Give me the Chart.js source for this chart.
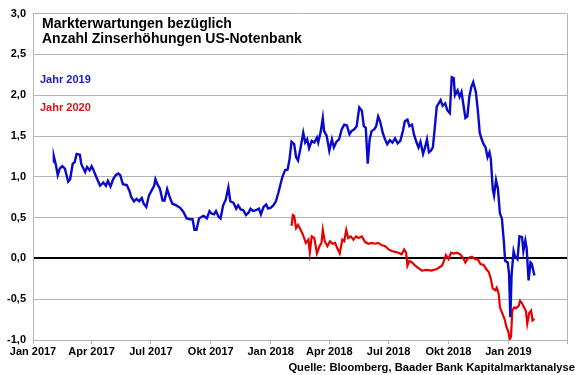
<!DOCTYPE html>
<html>
<head>
    <title>Markterwartungen bezüglich Anzahl Zinserhöhungen US-Notenbank</title>
    <script src="https://cdn.jsdelivr.net/npm/chart.js"></script>
    <style>
        body {
            margin: 0;
            padding: 0;
            overflow: hidden;
            background-color: #ffffff;
        }
        #chart-container {
            position: relative;
            width: 580px;
            height: 375px;
        }
    </style>
</head>
<body>
    <div id="chart-container">
        <canvas id="myChart"></canvas>
    </div>

    <script>
        // Tage seit 1. Januar 2017 und Werte
        const tage2019 = [31, 32, 35, 38, 41, 45, 49, 54, 57, 61, 64, 67, 72, 74, 80, 83, 87, 90, 93, 97,
            103, 108, 112, 115, 119, 123, 127, 131, 134, 138, 144, 148, 151, 155, 159, 163, 167, 170, 174, 178,
            182, 186, 188, 191, 195, 199, 202, 206, 210, 214, 220, 226, 231, 236, 241, 245, 248, 251, 255, 259,
            262, 267, 271, 274, 278, 281, 285, 288, 292, 296, 300, 303, 308, 312, 315, 319, 323, 327, 331, 334,
            338, 342, 347, 350, 354, 358, 361, 365, 369, 373, 377, 383, 387, 391, 394, 397, 401, 404, 407, 411,
            415, 418, 421, 424, 428, 432, 436, 438, 442, 445, 447, 451, 455, 459, 462, 466, 470, 474, 478, 482,
            486, 489, 493, 497, 501, 505, 508, 511, 514, 517, 520, 524, 527, 530, 533, 537, 541, 544, 548, 552,
            556, 560, 564, 568, 571, 575, 578, 582, 585, 589, 592, 595, 599, 602, 605, 608, 611, 614, 616, 620,
            623, 626, 629, 633, 636, 640, 643, 646, 648, 652, 655, 658, 661, 664, 667, 670, 673, 676, 680, 683,
            686, 689, 692, 695, 698, 701, 703, 706, 708, 711, 714, 717, 720, 723, 725, 729, 731, 733, 735, 738,
            740, 744, 747, 751, 753, 756, 758, 761, 764, 766, 770];
        const werte2019 = [1.18, 1.25, 1.15, 1.02, 1.10, 1.13, 1.10, 0.94, 0.97, 1.16, 1.18, 1.28, 1.27, 1.16, 1.06, 1.12, 1.08, 1.13, 1.08, 1.00,
            0.89, 0.93, 0.89, 0.95, 0.88, 0.97, 1.02, 1.04, 1.02, 0.91, 0.90, 0.83, 0.75, 0.70, 0.73, 0.70, 0.74, 0.67, 0.63, 0.77,
            0.83, 0.89, 0.97, 0.91, 0.85, 0.71, 0.71, 0.85, 0.75, 0.67, 0.65, 0.62, 0.57, 0.49, 0.48, 0.48, 0.35, 0.35, 0.49, 0.51,
            0.52, 0.49, 0.58, 0.55, 0.54, 0.58, 0.51, 0.49, 0.65, 0.72, 0.87, 0.70, 0.68, 0.61, 0.65, 0.60, 0.59, 0.53, 0.56, 0.61,
            0.58, 0.59, 0.61, 0.54, 0.63, 0.66, 0.61, 0.62, 0.65, 0.70, 0.81, 1.00, 1.08, 1.09, 1.22, 1.43, 1.40, 1.24, 1.20, 1.36,
            1.54, 1.42, 1.46, 1.35, 1.44, 1.42, 1.48, 1.42, 1.56, 1.72, 1.56, 1.50, 1.32, 1.46, 1.36, 1.43, 1.46, 1.58, 1.64, 1.63,
            1.52, 1.56, 1.58, 1.62, 1.85, 1.81, 1.62, 1.60, 1.16, 1.46, 1.56, 1.58, 1.62, 1.74, 1.68, 1.54, 1.45, 1.40, 1.45, 1.42,
            1.47, 1.41, 1.44, 1.56, 1.68, 1.70, 1.62, 1.64, 1.52, 1.42, 1.36, 1.43, 1.28, 1.36, 1.46, 1.30, 1.32, 1.36, 1.52, 1.86,
            1.90, 1.94, 1.87, 1.90, 1.82, 1.78, 2.22, 2.21, 2.00, 2.06, 1.98, 2.04, 1.88, 1.72, 1.74, 1.98, 2.10, 2.16, 2.04, 1.82,
            1.54, 1.46, 1.40, 1.36, 1.24, 1.30, 1.22, 0.85, 0.77, 0.96, 0.85, 0.55, 0.49, 0.21, -0.03, -0.05, -0.19, -0.72, -0.19, 0.09,
            0.03, -0.01, 0.27, 0.26, 0.09, 0.22, 0.13, -0.27, -0.05, -0.07, -0.21];

        const tage2020 = [397, 399, 401, 404, 407, 411, 415, 419, 423, 425, 428, 432, 436, 440, 443, 445, 448, 452, 456, 460,
            464, 467, 471, 475, 478, 481, 484, 488, 492, 496, 500, 505, 510, 515, 520, 525, 530, 536, 541, 546,
            551, 556, 561, 566, 570, 573, 575, 578, 582, 587, 592, 597, 605, 612, 620, 628, 631, 634, 638, 642,
            646, 651, 656, 660, 664, 667, 670, 674, 679, 683, 687, 692, 696, 700, 703, 706, 710, 712, 715, 717,
            721, 724, 727, 730, 732, 734, 736, 739, 742, 746, 748, 751, 754, 757, 759, 762, 765, 767, 770];
        const werte2020 = [0.40, 0.53, 0.52, 0.37, 0.41, 0.35, 0.28, 0.19, 0.23, 0.07, 0.27, 0.25, 0.06, 0.15, 0.19, 0.35, 0.21, 0.15, 0.21, 0.18,
            0.19, 0.13, 0.06, 0.23, 0.21, 0.35, 0.25, 0.27, 0.23, 0.27, 0.25, 0.27, 0.20, 0.18, 0.19, 0.18, 0.19, 0.16, 0.15, 0.11,
            0.09, 0.08, 0.07, 0.05, 0.11, 0.07, -0.09, -0.03, -0.05, -0.09, -0.12, -0.15, -0.14, -0.15, -0.13, -0.09, -0.03, 0.04, -0.01, 0.07,
            0.06, 0.07, 0.05, 0.01, -0.05, -0.01, 0.01, 0.02, -0.01, -0.01, -0.07, -0.08, -0.13, -0.17, -0.25, -0.37, -0.39, -0.36, -0.43, -0.60,
            -0.68, -0.74, -0.84, -0.90, -0.99, -0.96, -0.64, -0.60, -0.61, -0.58, -0.52, -0.55, -0.60, -0.65, -0.80, -0.67, -0.64, -0.76, -0.74];

        // Quartalsanfänge (Tage seit 1.1.2017) und Beschriftungen
        const quartalTage = [0, 90, 181, 273, 365, 455, 546, 638, 730, 820];
        const quartalLabels = ['Jan 2017', 'Apr 2017', 'Jul 2017', 'Okt 2017', 'Jan 2018', 'Apr 2018', 'Jul 2018', 'Okt 2018', 'Jan 2019', ''];

        const FONT = "'Liberation Sans', Arial, sans-serif";

        // Titel, Serienbeschriftungen, Quelle und rechter Rahmen
        const textPlugin = {
            id: 'texte',
            afterDraw(chart) {
                const c = chart.ctx;
                const a = chart.chartArea;
                c.save();
                c.strokeStyle = '#b4b4b4';
                c.lineWidth = 1;
                c.beginPath();
                c.moveTo(Math.round(a.right) + 0.5, a.top);
                c.lineTo(Math.round(a.right) + 0.5, a.bottom);
                c.stroke();

                c.textBaseline = 'alphabetic';
                c.textAlign = 'left';
                c.fillStyle = '#000000';
                c.font = 'bold 14px ' + FONT;
                c.fillText('Markterwartungen bezüglich', 42, 28);
                c.fillText('Anzahl Zinserhöhungen US-Notenbank', 42, 43);

                c.font = 'bold 11px ' + FONT;
                c.fillStyle = '#1a1ac8';
                c.fillText('Jahr 2019', 40, 83);
                c.fillStyle = '#e01010';
                c.fillText('Jahr 2020', 40, 111);

                c.fillStyle = '#000000';
                c.textAlign = 'right';
                c.font = 'bold 11.2px ' + FONT;
                c.fillText('Quelle: Bloomberg, Baader Bank Kapitalmarktanalyse', 575, 371);
                c.restore();
            }
        };

        new Chart(document.getElementById('myChart'), {
            type: 'line',
            data: {
                datasets: [{
                    label: 'Jahr 2019',
                    data: tage2019.map((t, i) => ({ x: t, y: werte2019[i] })),
                    borderColor: '#0a0acc',
                    borderWidth: 2.4,
                    pointRadius: 0,
                    tension: 0
                }, {
                    label: 'Jahr 2020',
                    data: tage2020.map((t, i) => ({ x: t, y: werte2020[i] })),
                    borderColor: '#e60000',
                    borderWidth: 2.2,
                    pointRadius: 0,
                    tension: 0
                }]
            },
            options: {
                responsive: true,
                maintainAspectRatio: false,
                animation: false,
                layout: {
                    padding: { top: 10, right: 13, bottom: 0, left: 0 }
                },
                plugins: {
                    legend: { display: false },
                    tooltip: { enabled: false }
                },
                scales: {
                    x: {
                        type: 'linear',
                        min: 0,
                        max: 820,
                        afterBuildTicks: function(axis) {
                            axis.ticks = quartalTage.map(v => ({ value: v }));
                        },
                        afterFit: function(axis) {
                            axis.height = 35;
                        },
                        grid: {
                            drawOnChartArea: false,
                            drawTicks: true,
                            tickLength: 4,
                            color: '#b4b4b4'
                        },
                        border: { color: '#b4b4b4' },
                        ticks: {
                            autoSkip: false,
                            maxRotation: 0,
                            padding: 1,
                            color: '#000000',
                            font: { family: FONT, size: 11, weight: 'bold' },
                            callback: function(value, index) {
                                return quartalLabels[index];
                            }
                        }
                    },
                    y: {
                        min: -1,
                        max: 3,
                        afterFit: function(axis) {
                            axis.width = 33;
                        },
                        grid: {
                            drawTicks: false,
                            color: ctx => ctx.tick.value === 0 ? '#000000' : '#b4b4b4',
                            lineWidth: ctx => ctx.tick.value === 0 ? 2 : 1
                        },
                        border: { color: '#b4b4b4' },
                        ticks: {
                            stepSize: 0.5,
                            padding: 7,
                            color: '#000000',
                            font: { family: FONT, size: 11, weight: 'bold' },
                            callback: function(value) {
                                return value.toFixed(1).replace('.', ',');
                            }
                        }
                    }
                }
            },
            plugins: [textPlugin]
        });
    </script>
</body>
</html>
